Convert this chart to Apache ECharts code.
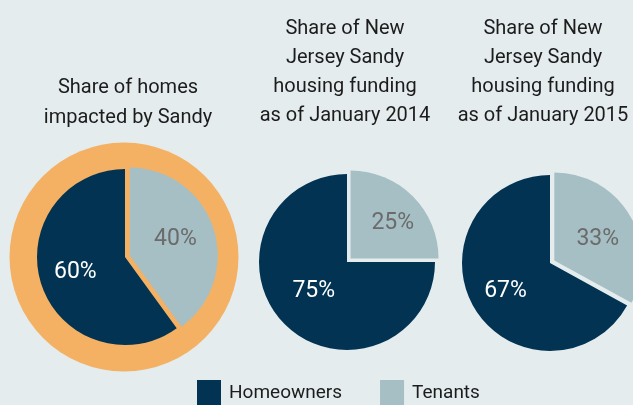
<!DOCTYPE html>
<html>
<head>
<meta charset="utf-8">
<script src="https://cdn.jsdelivr.net/npm/echarts@6/dist/echarts.min.js"></script>
<style>
  html, body { margin: 0; padding: 0; background: #e4ecee; }
  #chart { width: 633px; height: 405px; }
</style>
</head>
<body>
<div id="chart"></div>
<script>
// Housing shares after Hurricane Sandy
const categories = ['Homeowners', 'Tenants'];
const impactedShare = [60, 40];
const funding2014Share = [75, 25];
const funding2015Share = [67, 33];
const panelTitles = [
  'Share of homes\nimpacted by Sandy',
  'Share of New\nJersey Sandy\nhousing funding\nas of January 2014',
  'Share of New\nJersey Sandy\nhousing funding\nas of January 2015'
];

const NAVY = '#023352';
const GREY_BLUE = '#a6bfc4';
const ORANGE = '#f4b163';
const FONT = 'Roboto, "Liberation Sans", sans-serif';

function sliceData(values) {
  return values.map((v, i) => ({
    name: categories[i],
    value: v,
    selected: i === 1,
    itemStyle: { color: i === 0 ? NAVY : GREY_BLUE },
    label: { color: i === 0 ? '#ffffff' : '#6b6b6b' }
  }));
}

// small hand nudges of the percentage labels inside each pie: [homeowners, tenants]
function sharePie(values, center, nudges) {
  return {
    type: 'pie',
    center: center,
    radius: [0, 88],
    startAngle: 90,
    clockwise: false,
    selectedMode: 'single',
    selectedOffset: 5,
    silent: true,
    animation: false,
    z: 3,
    label: {
      show: true,
      position: 'inside',
      formatter: '{c}%',
      fontFamily: FONT,
      fontSize: 23
    },
    labelLayout: function (params) {
      const n = nudges[params.dataIndex];
      return { dx: n[0], dy: n[1] };
    },
    labelLine: { show: false },
    emphasis: { disabled: true },
    data: sliceData(values)
  };
}

const chart = echarts.init(document.getElementById('chart'), null, { renderer: 'canvas' });

const titleX = [128, 345, 543];
const titleTop = [73, 14, 14];

chart.setOption({
  backgroundColor: '#e4ecee',
  animation: false,
  title: panelTitles.map((t, i) => ({
    text: t,
    left: titleX[i],
    top: titleTop[i],
    textAlign: 'center',
    padding: 0,
    textStyle: {
      fontFamily: FONT,
      fontWeight: 'normal',
      fontSize: 20,
      lineHeight: i === 0 ? 30 : 29,
      color: '#1c1c1c'
    }
  })),
  legend: {
    data: categories,
    left: 197,
    top: 380,
    itemWidth: 24,
    itemHeight: 26,
    itemGap: 38,
    icon: 'rect',
    selectedMode: false,
    padding: 0,
    textStyle: {
      fontFamily: FONT,
      fontSize: 19,
      color: '#1c1c1c',
      padding: [2, 0, 0, 3]
    }
  },
  series: [
    {
      // orange ring behind the first pie
      type: 'pie',
      name: 'ring',
      center: [124, 257],
      radius: [0, 114.5],
      silent: true,
      animation: false,
      z: 1,
      label: { show: false },
      labelLine: { show: false },
      emphasis: { disabled: true },
      data: [{ name: 'ring', value: 1, itemStyle: { color: ORANGE } }]
    },
    sharePie(impactedShare, [125, 257], [[-5, 1], [1, -2]]),
    sharePie(funding2014Share, [347, 262], [[0, -4], [9, -2]]),
    sharePie(funding2015Share, [550, 263], [[-4, 4], [3, 3]])
  ]
});
</script>
</body>
</html>
